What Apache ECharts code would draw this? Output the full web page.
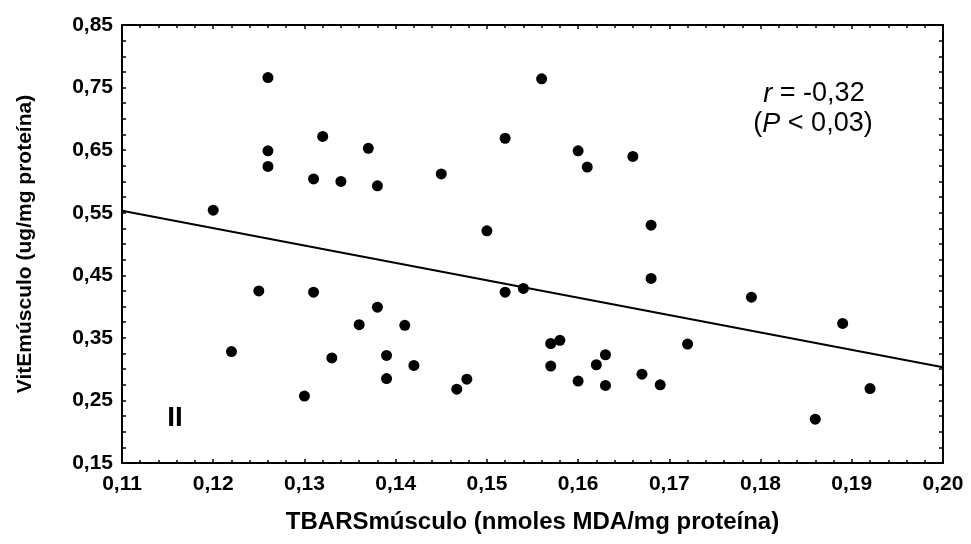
<!DOCTYPE html>
<html>
<head>
<meta charset="utf-8">
<script src="https://cdn.jsdelivr.net/npm/echarts@6/dist/echarts.min.js"></script>
<style>
	html, body { margin: 0; padding: 0; background: #fff; }
	#scatter_chart { width: 971px; height: 544px; }
</style>
</head>
<body>
<div id="scatter_chart"></div>
<script>
// TBARS músculo (x) vs VitE músculo (y)
var tbarsValues = [
	0.120, 0.122, 0.125, 0.126, 0.126, 0.126, 0.130, 0.131, 0.131, 0.132,
	0.133, 0.134, 0.136, 0.137, 0.138, 0.138, 0.139, 0.139, 0.141, 0.142,
	0.145, 0.1467, 0.1478, 0.150, 0.152, 0.152, 0.154, 0.156, 0.157, 0.157,
	0.158, 0.160, 0.160, 0.161, 0.162, 0.163, 0.163, 0.166, 0.167, 0.168,
	0.168, 0.169, 0.172, 0.179, 0.186, 0.189, 0.192
];
var vitEValues = [
	0.554, 0.328, 0.425, 0.766, 0.649, 0.624, 0.257, 0.604, 0.423, 0.672,
	0.318, 0.600, 0.371, 0.653, 0.593, 0.399, 0.322, 0.285, 0.370, 0.306,
	0.612, 0.268, 0.284, 0.521, 0.423, 0.669, 0.429, 0.764, 0.341, 0.305,
	0.346, 0.649, 0.281, 0.623, 0.307, 0.323, 0.274, 0.640, 0.292, 0.530,
	0.445, 0.275, 0.340, 0.415, 0.220, 0.373, 0.269
];

// recta de regresión (extremos)
var fitX = [0.11, 0.20];
var fitY = [0.553, 0.303];

var xMin = 0.11, xMax = 0.20, xStep = 0.01;
var yMin = 0.15, yMax = 0.85, yStep = 0.05;

var fontFamily = '"Liberation Sans", Arial, sans-serif';

function comma(v) {
	return v.toFixed(2).replace('.', ',');
}

var chart = echarts.init(document.getElementById('scatter_chart'));

var points = [];
for (var i = 0; i < tbarsValues.length; i++) {
	points.push([tbarsValues[i], vitEValues[i]]);
}
var fitLine = [];
for (var j = 0; j < fitX.length; j++) {
	fitLine.push([fitX[j], fitY[j]]);
}

var tickStyle = { show: true, inside: true, length: 4, lineStyle: { color: '#000', width: 1.5 } };
var axisLineStyle = { show: true, onZero: false, lineStyle: { color: '#000', width: 2 } };

var option = {
	animation: false,
	backgroundColor: '#fff',
	grid: { left: 122, right: 28, top: 25, bottom: 81, containLabel: false },
	xAxis: [{
		type: 'value',
		position: 'bottom',
		min: xMin, max: xMax, interval: xStep,
		name: 'TBARSmúsculo (nmoles MDA/mg proteína)',
		nameLocation: 'middle',
		nameGap: 47,
		nameTextStyle: { color: '#000', fontFamily: fontFamily, fontSize: 24, fontWeight: 'bold' },
		axisLine: axisLineStyle,
		axisTick: tickStyle,
		minorTick: { show: true, splitNumber: 5, length: 3, lineStyle: { color: '#000', width: 1.5 } },
		splitLine: { show: false },
		axisLabel: {
			color: '#000', fontFamily: fontFamily, fontSize: 21, fontWeight: 'bold', margin: 11,
			formatter: comma
		}
	}, {
		type: 'value',
		position: 'top',
		min: xMin, max: xMax, interval: xStep,
		axisLine: axisLineStyle,
		axisTick: tickStyle,
		minorTick: { show: true, splitNumber: 5, length: 3, lineStyle: { color: '#000', width: 1.5 } },
		splitLine: { show: false },
		axisLabel: { show: false }
	}],
	yAxis: [{
		type: 'value',
		position: 'left',
		min: yMin, max: yMax, interval: yStep,
		name: 'VitEmúsculo (ug/mg proteína)',
		nameLocation: 'middle',
		nameGap: 86,
		nameTextStyle: { color: '#000', fontFamily: fontFamily, fontSize: 21, fontWeight: 'bold' },
		axisLine: axisLineStyle,
		axisTick: tickStyle,
		minorTick: { show: true, splitNumber: 2, length: 4, lineStyle: { color: '#000', width: 1.5 } },
		splitLine: { show: false },
		axisLabel: {
			color: '#000', fontFamily: fontFamily, fontSize: 21, fontWeight: 'bold', margin: 9,
			formatter: function(v) {
				// sólo 0,15 0,25 ... llevan etiqueta
				return Math.round(v * 100) % 10 === 5 ? comma(v) : '';
			}
		}
	}, {
		type: 'value',
		position: 'right',
		min: yMin, max: yMax, interval: yStep,
		axisLine: axisLineStyle,
		axisTick: tickStyle,
		minorTick: { show: true, splitNumber: 2, length: 4, lineStyle: { color: '#000', width: 1.5 } },
		splitLine: { show: false },
		axisLabel: { show: false }
	}],
	series: [{
		name: 'regresion',
		type: 'line',
		data: fitLine,
		symbol: 'none',
		lineStyle: { color: '#000', width: 2 },
		silent: true,
		z: 2
	}, {
		name: 'puntos',
		type: 'scatter',
		data: points,
		symbol: 'circle',
		symbolSize: 11,
		itemStyle: { color: '#000', opacity: 1 },
		z: 3
	}],
	graphic: [{
		type: 'text',
		x: 814, y: 94,
		style: {
			text: '{i|r} = -0,32',
			align: 'center', verticalAlign: 'middle',
			fill: '#000', font: '27px ' + fontFamily,
			rich: { i: { fontStyle: 'italic', fontSize: 27, fontFamily: fontFamily } }
		}
	}, {
		type: 'text',
		x: 813, y: 124,
		style: {
			text: '({i|P} < 0,03)',
			align: 'center', verticalAlign: 'middle',
			fill: '#000', font: '27px ' + fontFamily,
			rich: { i: { fontStyle: 'italic', fontSize: 27, fontFamily: fontFamily } }
		}
	}, {
		type: 'text',
		x: 175, y: 418,
		style: {
			text: 'II',
			align: 'center', verticalAlign: 'middle',
			fill: '#000', font: 'bold 28px ' + fontFamily
		}
	}]
};

chart.setOption(option);
</script>
</body>
</html>
